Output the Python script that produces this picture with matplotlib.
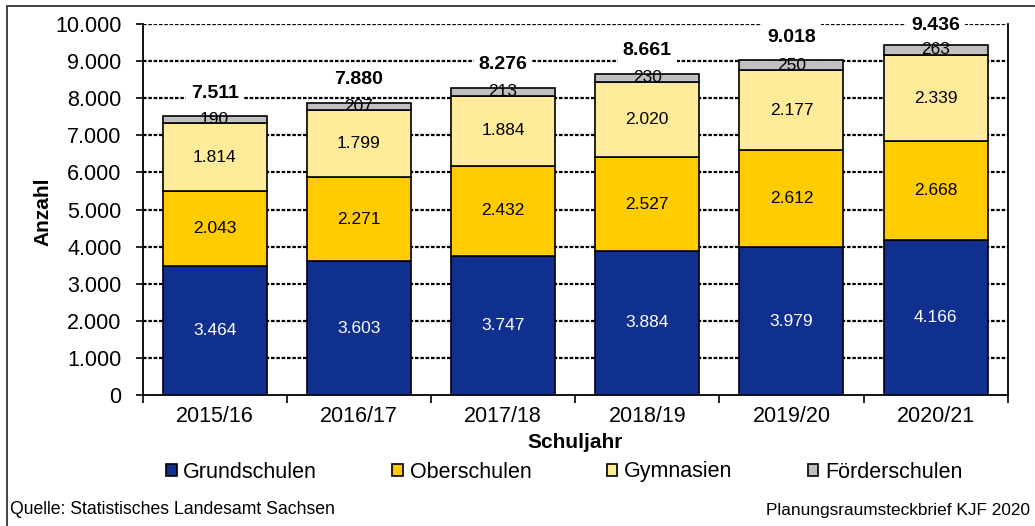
import matplotlib
matplotlib.use("Agg")
import matplotlib.pyplot as plt
from matplotlib.patches import Rectangle
import numpy as np

plt.rcParams['font.family'] = ['Liberation Sans', 'DejaVu Sans']

years = ["2015/16", "2016/17", "2017/18", "2018/19", "2019/20", "2020/21"]
grundschulen = [3464, 3603, 3747, 3884, 3979, 4166]
oberschulen = [2043, 2271, 2432, 2527, 2612, 2668]
gymnasien = [1814, 1799, 1884, 2020, 2177, 2339]
foerderschulen = [190, 207, 213, 230, 250, 263]
totals = [7511, 7880, 8276, 8661, 9018, 9436]

series = [
    ("Grundschulen", grundschulen, "#10308F", "white"),
    ("Oberschulen", oberschulen, "#FFCC00", "black"),
    ("Gymnasien", gymnasien, "#FFEB99", "black"),
    ("Förderschulen", foerderschulen, "#C0C0C0", "black"),
]

def fmt(v):
    return f"{int(v):,}".replace(",", ".")

fig = plt.figure(figsize=(10.35, 5.26), dpi=100)
# outer frame (top and left visible)
fig.patches.append(Rectangle((7/1035, -0.05), 1.2, 1 - 6/526 + 0.05, transform=fig.transFigure,
                             fill=False, edgecolor="#333333", linewidth=1.3, zorder=0))

ax = fig.add_axes([142.5/1035, 1 - 395/526, (1007.7 - 142.5)/1035, (395 - 24)/526])

x = np.arange(len(years))
bottom = np.zeros(len(years))
handles = []
for name, vals, color, tcol in series:
    vals = np.array(vals, dtype=float)
    b = ax.bar(x, vals, width=0.72, bottom=bottom, color=color, edgecolor="black",
               linewidth=1.2, zorder=3, label=name)
    handles.append(b)
    for xi, v, bt in zip(x, vals, bottom):
        ax.text(xi, bt + v / 2, fmt(v), ha="center", va="center", color=tcol,
                fontsize=12.5, zorder=5)
    bottom += vals

for xi, t in zip(x, totals):
    ax.text(xi, min(t + 620, 9960), fmt(t), ha="center", va="center", fontsize=14,
            fontweight="bold", zorder=6,
            bbox=dict(boxstyle="square,pad=0.25", facecolor="white", edgecolor="none"))

ax.set_xlim(-0.5, len(years) - 0.5)
ax.set_ylim(0, 10000)
yt = np.arange(0, 10001, 1000)
ax.set_yticks(yt)
ax.set_yticklabels([fmt(v) for v in yt], fontsize=15.5)
for v in yt[1:]:
    ax.axhline(v, color="black", linewidth=1.6, linestyle=(0, (1.6, 0.8)), zorder=1)

ax.set_xticks(x)
ax.set_xticklabels(years, fontsize=15.5)
ax.tick_params(axis="x", length=0, pad=8)
ax.set_xticks(np.arange(-0.5, len(years)), minor=True)
ax.tick_params(axis="x", which="minor", length=6, width=1.2, direction="out")
ax.tick_params(axis="y", length=5, width=1.2, direction="out", pad=10)

for s in ["left", "bottom", "right"]:
    ax.spines[s].set_linewidth(1.3)
ax.spines["top"].set_visible(False)

ax.set_xlabel("Schuljahr", fontsize=15, fontweight="bold", labelpad=4)
ax.set_ylabel("Anzahl", fontsize=15, fontweight="bold")
ax.yaxis.set_label_coords(-0.1046, 0.493)

leg = fig.legend(handles=handles, labels=[s[0] for s in series], loc="center",
                 bbox_to_anchor=(0.545, 1 - 472/526), ncol=4, frameon=False, fontsize=15.5,
                 handlelength=0.5, handleheight=0.5, handletextpad=0.3, columnspacing=3.5)

fig.text(10/1035, 1 - 510/526, "Quelle: Statistisches Landesamt Sachsen", fontsize=12.7,
         ha="left", va="center")
fig.text(1030/1035, 1 - 510/526, "Planungsraumsteckbrief KJF 2020", fontsize=12.4,
         ha="right", va="center")

fig.savefig("out.png", dpi=100)
